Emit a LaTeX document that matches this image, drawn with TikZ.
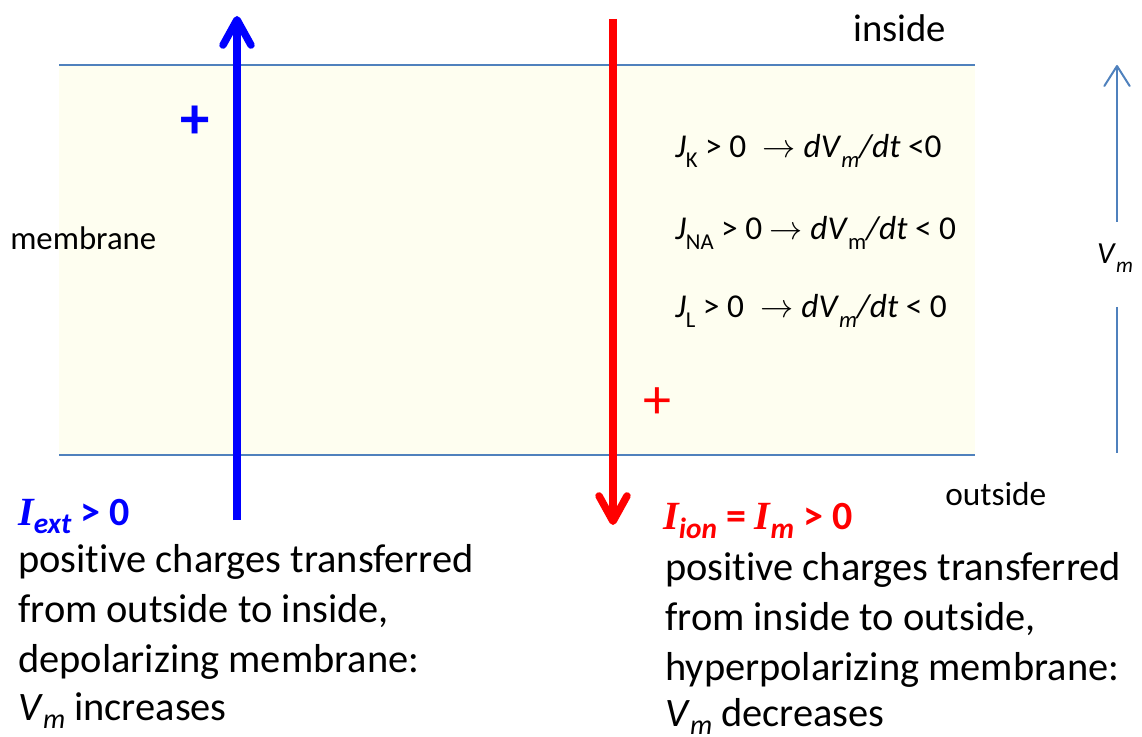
\documentclass[tikz,border=0pt]{standalone}
\usepackage{fontspec}
\setmainfont{Carlito}[Ligatures={NoCommon}]
\newfontfamily\tnr{Liberation Serif}
\usetikzlibrary{arrows.meta}
\definecolor{memfill}{RGB}{254,254,240}
\definecolor{memline}{RGB}{79,129,189}
\definecolor{pblue}{RGB}{0,0,255}
\definecolor{pred}{RGB}{255,0,0}
\newcommand\fs[1]{\fontsize{#1}{#1}\selectfont}
\newcommand\lowsub[2]{\raisebox{-#1}{#2}}
\tikzset{
  memborder/.style={draw=memline, line width=1.5pt},
  body/.style={anchor=base west, inner sep=0pt, font=\fs{30.3}},
  eq/.style={anchor=base west, inner sep=0pt, font=\fs{25}},
  lbl/.style={anchor=base west, inner sep=0pt},
  curarrow/.style={line width=5.6pt, -{Straight Barb[length=19pt, width=21pt, round]}},
}
\begin{document}
\begin{tikzpicture}[x=0.75pt, y=-0.75pt]
\useasboundingbox (0,0) rectangle (1142,737);
% membrane
\fill[memfill] (59,65) rectangle (975,455);
\draw[memborder] (59,65) -- (975,65);
\draw[memborder] (59,455) -- (975,455);
% labels
\node[lbl, font=\fs{29}] (inside) at (853,42) {inside};
\node[lbl, font=\fs{25}] (outside) at (945,505) {outside};
\node[lbl, font=\fs{24.6}] (membrane) at (10,250) {membrane};
% Vm arrow
\node[inner sep=0pt, font=\fs{23}] (vm) at (1115,258) {\textit{V}\lowsub{0.3em}{\fs{16}\textit{m}}};
\coordinate (vmtop) at (1117,65);
\coordinate (vmtopstart) at (1117,222);
\coordinate (vmbot) at (1117,453);
\coordinate (vmbotend) at (1117,307);
\draw[memline, line width=1.5pt, -{Straight Barb[length=15pt, width=19pt, round]}] (vmtopstart) -- (vmtop);
\draw[memline, line width=1.5pt] (vmbotend) -- (vmbot);
% plus signs
\node[inner sep=0pt, text=pblue, font=\fs{44}\bfseries] (bplus) at (195,122) {+};
\node[inner sep=0pt, text=pred, font=\fs{42}] (rplus) at (657,403) {+};
% current arrows
\coordinate (bstart) at (237,520);
\coordinate (bend) at (237,16);
\draw[curarrow, pblue] (bstart) -- (bend);
\coordinate (rstart) at (613,19);
\coordinate (rend) at (613,525);
\draw[curarrow, pred] (rstart) -- (rend);
% equations
\node[eq] (eq1) at (675,158) {\textit{J}\lowsub{0.3em}{\fs{17}K} > 0\enspace $\rightarrow$ \textit{dV}\lowsub{0.3em}{\fs{17}\textit{m}}\textit{/dt} <0};
\node[eq] (eq2) at (675,240) {\textit{J}\lowsub{0.3em}{\fs{17}NA} > 0 $\rightarrow$ \textit{dV}\lowsub{0.3em}{\fs{17}m}\textit{/dt} < 0};
\node[eq] (eq3) at (675,318) {\textit{J}\lowsub{0.3em}{\fs{17}L} > 0\enspace $\rightarrow$ \textit{dV}\lowsub{0.3em}{\fs{17}\textit{m}}\textit{/dt} < 0};
% left texts
\node[lbl, text=pblue, font=\fs{30}] (iext) at (18,525) {{\tnr\bfseries\itshape I}\lowsub{6pt}{\fs{22}\bfseries\itshape ext} \bfseries > 0};
\node[body] (l1) at (18,572) {positive charges transferred};
\node[body] (l2) at (18,622) {from outside to inside,};
\node[body] (l3) at (18,672) {depolarizing membrane:};
\node[body] (l4) at (18,720) {\textit{V}\lowsub{0.22em}{\fs{21}\textit{m}} increases};
% right texts
\node[lbl, text=pred, font=\fs{30}] (iion) at (663,529) {{\tnr\bfseries\itshape I}\lowsub{7pt}{\fs{22}\bfseries\itshape ion} \bfseries = {\tnr\bfseries\itshape I}\lowsub{7pt}{\fs{22}\bfseries\itshape m} > 0};
\node[body] (r1) at (665,580) {positive charges transferred};
\node[body] (r2) at (665,630) {from inside to outside,};
\node[body] (r3) at (665,680) {hyperpolarizing membrane:};
\node[body] (r4) at (665,726) {\textit{V}\lowsub{0.2em}{\fs{21}\textit{m}} decreases};
\end{tikzpicture}
\end{document}
